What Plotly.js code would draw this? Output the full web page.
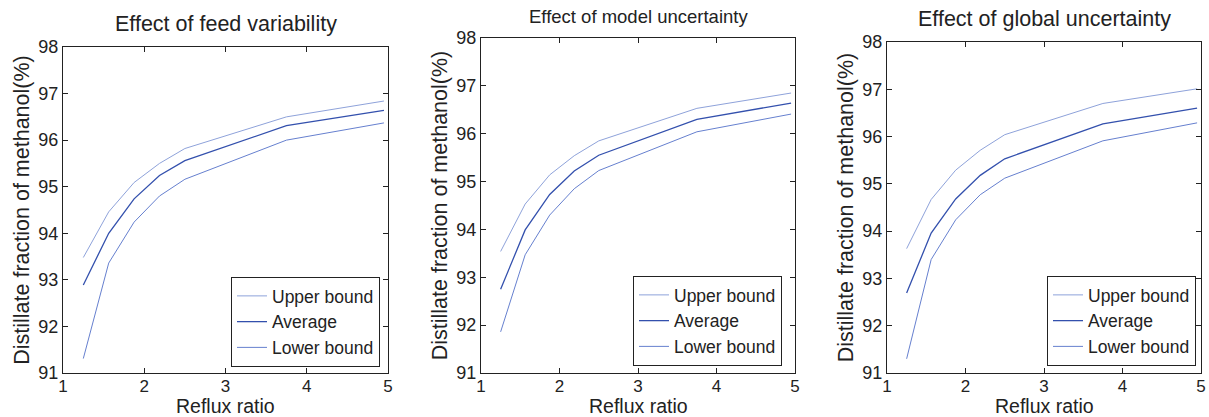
<!DOCTYPE html>
<html>
<head>
<meta charset="utf-8">
<script src="https://cdn.plot.ly/plotly-3.0.1.min.js"></script>
<style>html,body{margin:0;padding:0;background:#fff;}#chart{width:1209px;height:417px;}</style>
</head>
<body>
<div id="chart"></div>
<script>
// Reflux ratio values
const refluxRatio = [1.25, 1.5625, 1.875, 2.1875, 2.5, 3.75, 4.95];

// Panel 1: Effect of feed variability
const feedUpper = [93.48, 94.46, 95.09, 95.50, 95.82, 96.50, 96.84];
const feedAverage = [92.89, 94.00, 94.74, 95.24, 95.56, 96.31, 96.64];
const feedLower = [91.31, 93.36, 94.24, 94.80, 95.16, 96.00, 96.37];

// Panel 2: Effect of model uncertainty
const modelUpper = [93.54, 94.53, 95.14, 95.54, 95.85, 96.53, 96.85];
const modelAverage = [92.75, 93.99, 94.73, 95.22, 95.55, 96.30, 96.64];
const modelLower = [91.86, 93.47, 94.30, 94.85, 95.23, 96.04, 96.41];

// Panel 3: Effect of global uncertainty
const globalUpper = [93.63, 94.67, 95.29, 95.71, 96.04, 96.70, 97.01];
const globalAverage = [92.69, 93.96, 94.68, 95.18, 95.53, 96.27, 96.60];
const globalLower = [91.30, 93.40, 94.24, 94.77, 95.12, 95.91, 96.29];

const panelTitles = ["Effect of feed variability", "Effect of model uncertainty", "Effect of global uncertainty"];
const seriesNames = ["Upper bound", "Average", "Lower bound"];
const xTickVals = [1, 2, 3, 4, 5];
const yTickVals = [91, 92, 93, 94, 95, 96, 97, 98];
const xAxisTitle = "Reflux ratio";
const yAxisTitle = "Distillate fraction of methanol(%)";

const FONT = "Liberation Sans, Arial, Helvetica, sans-serif";
const colors = ["#8ea2da", "#3350ad", "#6680cf"];
const widths = [1, 1.3, 1];

const panels = [
  [feedUpper, feedAverage, feedLower],
  [modelUpper, modelAverage, modelLower],
  [globalUpper, globalAverage, globalLower]
];

const W = 1209, H = 417;
const boxes = [
  {l: 63, r: 388, t: 47, b: 373, title: 24, tsize: 21.5, leg: {r: 380, b: 367}},
  {l: 481, r: 795, t: 38, b: 373, title: 17, tsize: 18.5, leg: {r: 782, b: 366}},
  {l: 887, r: 1201, t: 42, b: 373, title: 19, tsize: 21.5, leg: {r: 1196, b: 366}}
];

const traces = [];
const layout = {
  width: W, height: H,
  margin: {l: 0, r: 0, t: 0, b: 0},
  paper_bgcolor: "#fff", plot_bgcolor: "#fff",
  font: {family: FONT, color: "#222", size: 18},
  annotations: []
};

panels.forEach((series, p) => {
  const sfx = p === 0 ? "" : String(p + 1);
  const bx = boxes[p];
  const legName = p === 0 ? "legend" : "legend" + (p + 1);
  series.forEach((ys, i) => {
    traces.push({
      x: refluxRatio, y: ys, type: "scatter", mode: "lines",
      name: seriesNames[i],
      line: {color: colors[i], width: widths[i]},
      xaxis: "x" + sfx, yaxis: "y" + sfx,
      legend: legName, showlegend: true
    });
  });
  const axCommon = {
    showgrid: false, zeroline: false, showline: true, linecolor: "#222", linewidth: 1,
    mirror: "ticks", ticks: "inside", ticklen: 5, tickcolor: "#222"
  };
  layout["xaxis" + sfx] = Object.assign({}, axCommon, {
    domain: [bx.l / W, bx.r / W], range: [1, 5],
    tickvals: xTickVals, anchor: "y" + sfx,
    tickfont: {family: FONT, size: 17, color: "#222"},
    ticklabelstandoff: -2
  });
  layout["yaxis" + sfx] = Object.assign({}, axCommon, {
    domain: [1 - bx.b / H, 1 - bx.t / H], range: [91, 98],
    tickvals: yTickVals, anchor: "x" + sfx,
    tickfont: {family: FONT, size: 18, color: "#222"},
    title: {text: yAxisTitle, font: {family: FONT, size: 21.5, color: "#222"}, standoff: 2}
  });
  layout[legName] = {
    x: bx.leg.r / W, y: 1 - bx.leg.b / H, xanchor: "right", yanchor: "bottom",
    bgcolor: "#fff", bordercolor: "#222", borderwidth: 1,
    font: {family: FONT, size: 17.5, color: "#222"},
    tracegroupgap: 0, itemwidth: 30
  };
  layout.annotations.push({
    text: panelTitles[p], xref: "paper", yref: "paper",
    x: (bx.l + bx.r) / 2 / W, y: 1 - bx.title / H,
    xanchor: "center", yanchor: "middle", showarrow: false,
    font: {family: FONT, size: bx.tsize, color: "#222"}
  });
  layout.annotations.push({
    text: xAxisTitle, xref: "paper", yref: "paper",
    x: (bx.l + bx.r) / 2 / W, y: 1 - 405.5 / H,
    xanchor: "center", yanchor: "middle", showarrow: false, borderpad: 0,
    font: {family: FONT, size: 19.5, color: "#222"}
  });
});

Plotly.newPlot("chart", traces, layout, {displayModeBar: false, staticPlot: true});
</script>
</body>
</html>
